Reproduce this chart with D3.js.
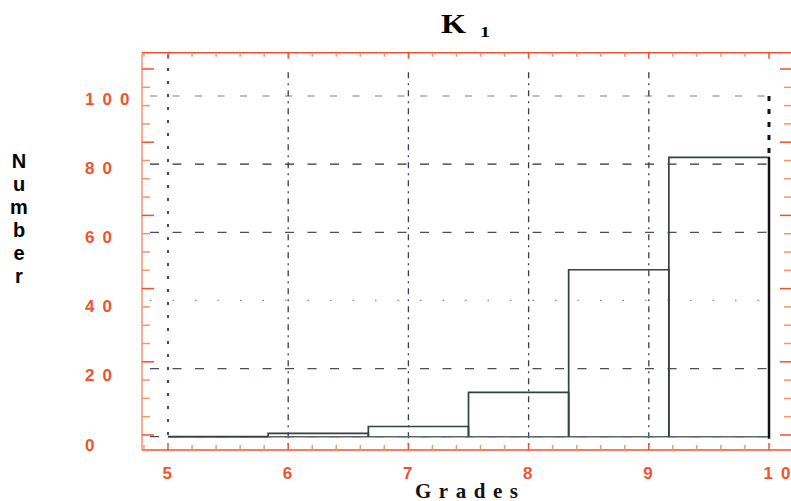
<!DOCTYPE html>
<html>
<head>
<meta charset="utf-8">
<script src="https://cdn.jsdelivr.net/npm/d3@7/dist/d3.min.js"></script>
<style>
  html, body { margin: 0; padding: 0; background: #fff; }
  svg { display: block; }
</style>
</head>
<body>
<svg id="chart" width="791" height="501"></svg>
<script>
// ---------------- data ----------------
const binEdges = [5, 5.8333, 6.6667, 7.5, 8.3333, 9.1667, 10];
const counts = [0, 1, 3, 13, 49, 82];
const xTickValues = [5, 6, 7, 8, 9, 10];
const xTickLabels = ["5", "6", "7", "8", "9", "10"];
const yTickValues = [0, 20, 40, 60, 80, 100];
const yTickLabels = ["0", "20", "40", "60", "80", "100"];
const titleMain = "K";
const titleSub = "1";
const xTitle = "Grades";
const yTitle = "Number";

// ---------------- setup ----------------
const svg = d3.select("#chart");
const RED = "#f0532d";
const RED_LIGHT = "#f6946c";

// data scales (histogram and grid)
const x = d3.scaleLinear().domain([5, 10]).range([168, 769]);
const y = d3.scaleLinear().domain([0, 100]).range([436.7, 96]);
// axis frame tick scale (IDL-style axis, slightly offset from the data grid)
const yAxisTicks = d3.scaleLinear().domain([0, 100]).range([435, 69]);
// tick label placement scale
const yLabel = d3.scaleLinear().domain([0, 100]).range([450.7, 104.5]);

const frame = { left: 142, top: 52.7, bottom: 450, right: 791 };

// ---------------- grid ----------------
const g = svg.append("g");

const hStyle = {
  0:   { dash: "9,13.5", color: "#4b4b5e", w: 1.2 },
  20:  { dash: "9,13.5", color: "#4b4b5e", w: 1.2 },
  40:  { dash: "1.5,21", color: "#8a8a8a", w: 1.2 },
  60:  { dash: "9,13.5", color: "#4b4b5e", w: 1.2 },
  80:  { dash: "9,13.5", color: "#2c2c3a", w: 1.3 },
  100: { dash: "7,15.5", color: "#7d7d8c", w: 1.1 }
};
g.selectAll("line.hgrid").data(yTickValues).enter().append("line")
  .attr("class", "hgrid")
  .attr("x1", 150).attr("x2", x(10))
  .attr("y1", d => y(d)).attr("y2", d => y(d))
  .attr("stroke", d => hStyle[d].color)
  .attr("stroke-width", d => hStyle[d].w)
  .attr("stroke-dasharray", d => hStyle[d].dash);

g.selectAll("line.vgrid").data(xTickValues.filter(v => v > 5 && v < 10)).enter().append("line")
  .attr("class", "vgrid")
  .attr("x1", d => x(d)).attr("x2", d => x(d))
  .attr("y1", y(107)).attr("y2", 445)
  .attr("stroke", "#3a3a55")
  .attr("stroke-width", 1.3)
  .attr("stroke-dasharray", "6,5,2,5");

g.append("line")
  .attr("x1", x(5)).attr("x2", x(5))
  .attr("y1", 55).attr("y2", 441)
  .attr("stroke", "#4a4a58")
  .attr("stroke-width", 2)
  .attr("stroke-dasharray", "3,10");

// ---------------- histogram ----------------
const hist = svg.append("g");
hist.append("line")
  .attr("x1", x(binEdges[0])).attr("x2", x(binEdges[binEdges.length - 1]))
  .attr("y1", y(0)).attr("y2", y(0))
  .attr("stroke", "#5a6664").attr("stroke-width", 1.6);

hist.selectAll("path.bar").data(counts).enter().append("path")
  .attr("class", "bar")
  .attr("d", (c, i) => {
    const x0 = x(binEdges[i]), x1 = x(binEdges[i + 1]);
    return `M${x0},${y(0)}V${y(c)}H${x1}V${y(0)}`;
  })
  .attr("fill", "none")
  .attr("stroke", "#34413f")
  .attr("stroke-width", 1.7);

svg.append("line")
  .attr("x1", x(10)).attr("x2", x(10))
  .attr("y1", y(100)).attr("y2", y(counts[counts.length - 1]))
  .attr("stroke", "#111")
  .attr("stroke-width", 3)
  .attr("stroke-dasharray", "5,8");
svg.append("line")
  .attr("x1", x(10)).attr("x2", x(10))
  .attr("y1", y(counts[counts.length - 1])).attr("y2", y(0) + 2)
  .attr("stroke", "#111")
  .attr("stroke-width", 2.5);

// ---------------- axes frame ----------------
const ax = svg.append("g");
ax.append("line").attr("x1", frame.left).attr("x2", frame.left)
  .attr("y1", frame.top).attr("y2", frame.bottom)
  .attr("stroke", RED_LIGHT).attr("stroke-width", 1.5);
ax.append("line").attr("x1", frame.left).attr("x2", frame.right)
  .attr("y1", frame.bottom).attr("y2", frame.bottom)
  .attr("stroke", RED).attr("stroke-width", 1.6);
ax.append("line").attr("x1", frame.left).attr("x2", frame.right)
  .attr("y1", frame.top).attr("y2", frame.top)
  .attr("stroke", RED).attr("stroke-width", 1.6);

const yMinor = d3.range(0, 101, 5);
ax.selectAll("line.ytl").data(yMinor).enter().append("line")
  .attr("class", "ytl")
  .attr("x1", frame.left).attr("x2", d => frame.left + (d % 20 === 0 ? 12 : 8))
  .attr("y1", d => yAxisTicks(d)).attr("y2", d => yAxisTicks(d))
  .attr("stroke", d => d % 20 === 0 ? RED : RED_LIGHT)
  .attr("stroke-width", 1.5);
ax.selectAll("line.ytr").data(yMinor).enter().append("line")
  .attr("class", "ytr")
  .attr("x1", frame.right).attr("x2", d => frame.right - (d % 20 === 0 ? 11 : 7))
  .attr("y1", d => yAxisTicks(d)).attr("y2", d => yAxisTicks(d))
  .attr("stroke", d => d % 20 === 0 ? RED : RED_LIGHT)
  .attr("stroke-width", 1.5);

const xMinor = d3.range(24, 51).map(v => v / 5);
const isMajor = v => Math.abs(v - Math.round(v)) < 1e-6;
ax.selectAll("line.xtb").data(xMinor).enter().append("line")
  .attr("class", "xtb")
  .attr("x1", d => x(d)).attr("x2", d => x(d))
  .attr("y1", frame.bottom).attr("y2", d => frame.bottom - (isMajor(d) ? 7 : 5))
  .attr("stroke", d => isMajor(d) ? RED : RED_LIGHT)
  .attr("stroke-width", 1.5);
ax.selectAll("line.xtt").data(xMinor).enter().append("line")
  .attr("class", "xtt")
  .attr("x1", d => x(d)).attr("x2", d => x(d))
  .attr("y1", frame.top).attr("y2", d => frame.top + (isMajor(d) ? 6 : 4))
  .attr("stroke", d => isMajor(d) ? RED : RED_LIGHT)
  .attr("stroke-width", 1.5);

const labelFont = "'Liberation Sans', Arial, sans-serif";
ax.selectAll("text.ylab").data(yTickValues).enter().append("text")
  .attr("class", "ylab")
  .attr("x", 85)
  .attr("y", d => yLabel(d))
  .attr("fill", RED)
  .attr("font-family", labelFont)
  .attr("font-weight", "bold")
  .attr("font-size", 17)
  .attr("letter-spacing", 8)
  .text((d, i) => yTickLabels[i]);

ax.selectAll("text.xlab").data(xTickValues).enter().append("text")
  .attr("class", "xlab")
  .attr("x", d => x(d) - 5.5)
  .attr("y", 478.5)
  .attr("fill", RED)
  .attr("font-family", labelFont)
  .attr("font-weight", "bold")
  .attr("font-size", 17)
  .attr("letter-spacing", 8)
  .text((d, i) => xTickLabels[i]);

// ---------------- titles ----------------
const serif = "'Liberation Serif', 'Times New Roman', serif";
svg.append("text")
  .attr("x", 441).attr("y", 32.5)
  .attr("font-family", serif).attr("font-weight", "bold")
  .attr("font-size", 28)
  .attr("textLength", 25).attr("lengthAdjust", "spacingAndGlyphs")
  .attr("fill", "#000")
  .text(titleMain);
svg.append("text")
  .attr("x", 480).attr("y", 37)
  .attr("font-family", serif).attr("font-weight", "bold")
  .attr("font-size", 15)
  .attr("textLength", 10).attr("lengthAdjust", "spacingAndGlyphs")
  .attr("fill", "#000")
  .text(titleSub);

svg.append("text")
  .attr("x", 415).attr("y", 498)
  .attr("font-family", serif).attr("font-weight", "bold")
  .attr("font-size", 21)
  .attr("textLength", 103).attr("lengthAdjust", "spacing")
  .attr("fill", "#111")
  .text(xTitle);

svg.selectAll("text.ytitle").data(yTitle.split("")).enter().append("text")
  .attr("class", "ytitle")
  .attr("x", 19)
  .attr("y", (d, i) => 168 + i * 23)
  .attr("text-anchor", "middle")
  .attr("font-family", labelFont).attr("font-weight", "bold")
  .attr("font-size", 20)
  .attr("fill", "#000")
  .text(d => d);
</script>
</body>
</html>
